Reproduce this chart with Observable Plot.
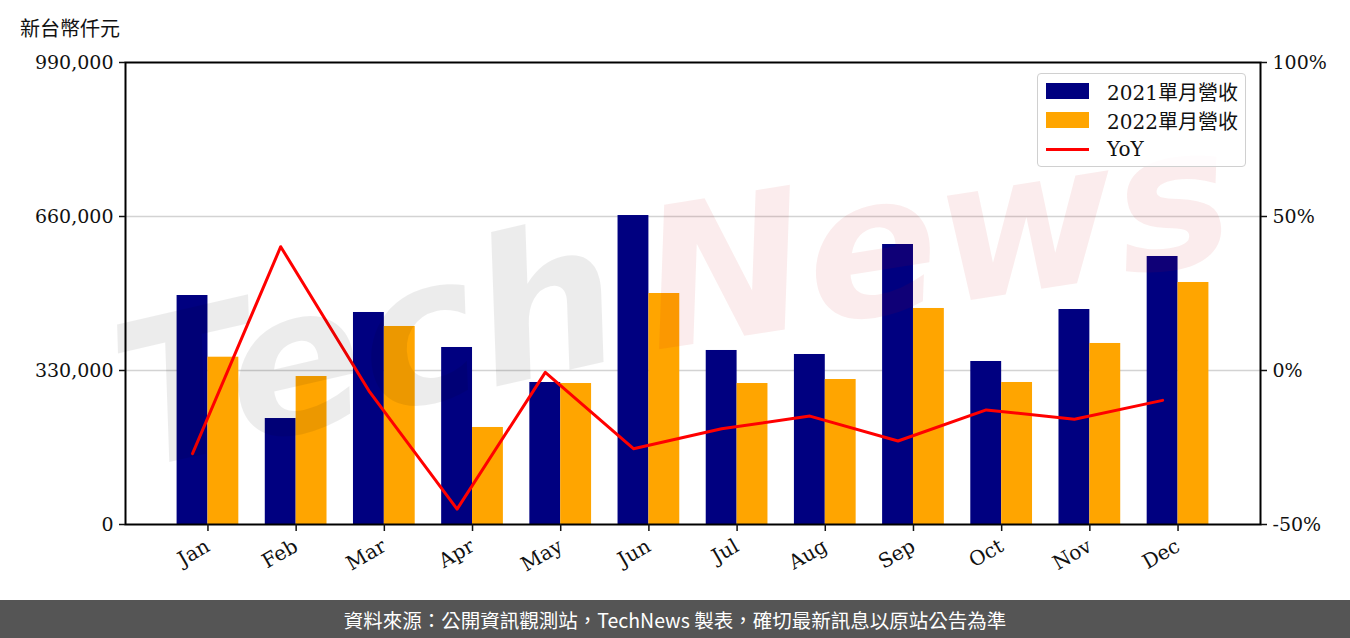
<!DOCTYPE html>
<html><head><meta charset="utf-8">
<script src="https://cdn.jsdelivr.net/npm/d3@7"></script>
<script src="https://cdn.jsdelivr.net/npm/@observablehq/plot@0.6"></script>
<style>
body{margin:0;background:#fff;width:1350px;height:638px;overflow:hidden;position:relative;font-family:"DejaVu Serif","Noto Sans CJK TC",serif}
#chart{position:absolute;left:0;top:0}
#title{position:absolute;left:20px;top:13px;font-size:20px;color:#111;font-family:"DejaVu Serif","Noto Sans CJK TC",serif}
#legend{position:absolute;left:1037px;top:73px;width:207px;height:92px;border:1.5px solid #d0d0d0;border-radius:4px;background:rgba(255,255,255,0.85)}
.row{position:absolute;left:8px;height:24px;display:flex;align-items:center;font-size:20px;color:#111}
.sw{width:43px;height:16px;margin-right:18px}
.ln{width:43px;height:3px;background:#ff0000;margin-right:18px}
#footer{position:absolute;left:0;top:600px;width:1350px;height:38px;background:#555555;color:#fff;font-family:"Noto Sans CJK TC","Noto Sans",sans-serif;font-size:19.5px;display:flex;align-items:center;justify-content:center}
#wm{position:absolute;left:0;top:0;pointer-events:none}
</style></head><body>
<div id="chart"></div>
<svg id="wm" width="1350" height="600">
  <text x="135" y="470" transform="rotate(-13 135 470)" font-family="DejaVu Sans" font-weight="bold" font-style="italic" font-size="200" fill="rgba(0,0,0,0.075)">Tech</text>
  <text x="655" y="350" transform="rotate(-9 655 350)" font-family="DejaVu Sans" font-weight="bold" font-style="italic" font-size="195" fill="rgba(200,0,20,0.075)">News</text>
</svg>
<div id="title">新台幣仟元</div>
<div id="legend">
  <div class="row" style="top:5px"><div class="sw" style="background:#000080"></div><span id="l1"></span></div>
  <div class="row" style="top:34px"><div class="sw" style="background:#FFA500"></div><span id="l2"></span></div>
  <div class="row" style="top:63px"><div class="ln"></div><span id="l3"></span></div>
</div>
<div id="footer">資料來源：公開資訊觀測站，TechNews 製表，確切最新訊息以原站公告為準</div>
<script>
const months = ["Jan","Feb","Mar","Apr","May","Jun","Jul","Aug","Sep","Oct","Nov","Dec"];
const rev2021 = [490700, 227100, 454300, 379300, 304300, 662100, 372900, 364300, 600000, 349300, 460700, 574300];
const rev2022 = [358500, 317100, 424300, 207900, 302100, 495000, 302100, 310700, 462900, 304300, 387900, 518600];
const yoy = [-27.0, 40.2, -6.6, -45.0, -0.6, -25.4, -18.9, -14.8, -22.9, -12.8, -15.8, -9.7];
const seriesNames = ["2021單月營收", "2022單月營收", "YoY"];
const leftTicks = [0, 330000, 660000, 990000];
const rightTicks = [-50, 0, 50, 100];

document.getElementById("l1").textContent = seriesNames[0];
document.getElementById("l2").textContent = seriesNames[1];
document.getElementById("l3").textContent = seriesNames[2];

const yMax = 990000;
const pctToRev = p => (p + 50) / 150 * yMax;
const revToPct = v => v / yMax * 150 - 50;
const w = 0.35;
const data = months.map((m, i) => ({i, m, r21: rev2021[i], r22: rev2022[i], yoy: yoy[i]}));
const pad = (months.length - 1 + 2 * w) * 0.05;

const chart = Plot.plot({
  width: 1350, height: 600,
  marginLeft: 125, marginRight: 90, marginTop: 62, marginBottom: 76,
  x: {type: "linear", domain: [-w - pad, months.length - 1 + w + pad], axis: null},
  y: {domain: [0, yMax], axis: null},
  style: {fontFamily: '"DejaVu Serif","Noto Sans CJK TC",serif', fontSize: "19px", color: "#111", background: "transparent"},
  marks: [
    Plot.ruleY(leftTicks.slice(1, 3), {stroke: "#d3d3d3", strokeWidth: 1.5}),
    Plot.rectY(data, {x1: d => d.i - w, x2: d => d.i, y: "r21", fill: "#000080"}),
    Plot.rectY(data, {x1: d => d.i, x2: d => d.i + w, y: "r22", fill: "#FFA500"}),
    Plot.line(data, {x: d => d.i - w / 2, y: d => pctToRev(d.yoy), stroke: "#ff0000", strokeWidth: 3}),
    Plot.frame({stroke: "#000", strokeWidth: 2}),
    Plot.axisY({anchor: "left", ticks: leftTicks, tickFormat: d3.format(","), tickSize: 6, tickPadding: 6, fontSize: 19, strokeWidth: 1.5}),
    Plot.axisY({anchor: "right", ticks: rightTicks.map(pctToRev), tickFormat: v => Math.round(revToPct(v)) + "%", tickSize: 6, tickPadding: 6, fontSize: 19, strokeWidth: 1.5}),
    Plot.axisX({ticks: d3.range(12), tickFormat: i => months[i], tickRotate: -30, tickSize: 7, tickPadding: 13, fontSize: 20, strokeWidth: 1.5, textAnchor: "end"}),
  ]
});
document.getElementById("chart").appendChild(chart);
</script>
</body></html>
